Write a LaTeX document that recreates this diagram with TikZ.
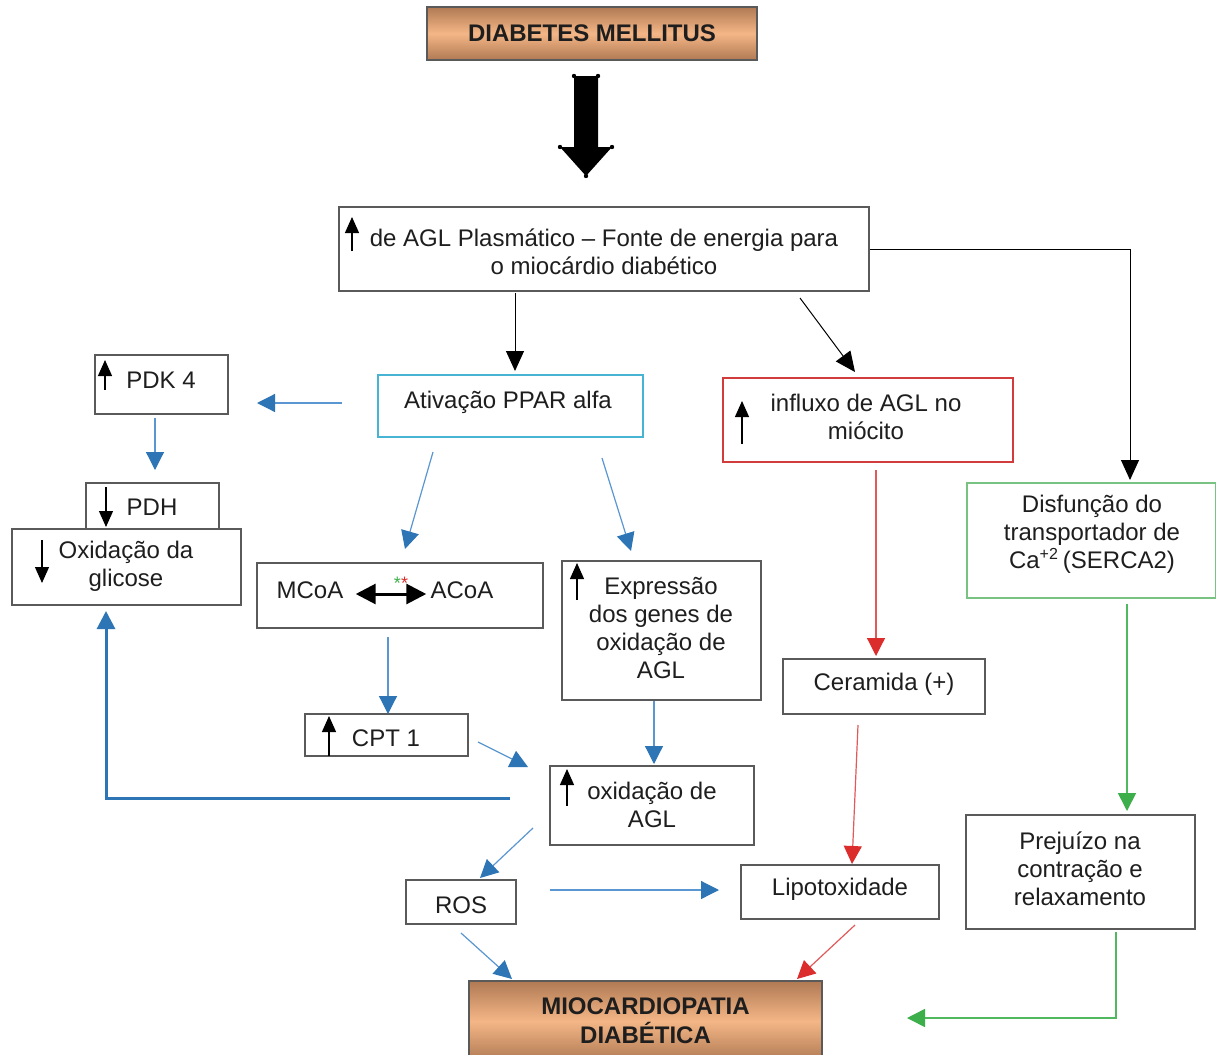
\documentclass[tikz,border=0pt]{standalone}
\usepackage{fontspec}
\setmainfont{Liberation Sans}
\usetikzlibrary{arrows.meta,calc}
\definecolor{txt}{RGB}{30,30,30}
\definecolor{bord}{RGB}{90,90,90}
\definecolor{blhead}{RGB}{46,117,182}
\definecolor{blline}{RGB}{90,150,210}
\definecolor{rdhead}{RGB}{220,45,45}
\definecolor{rdline}{RGB}{225,90,90}
\definecolor{gnhead}{RGB}{60,175,75}
\definecolor{gnline}{RGB}{80,185,95}
\definecolor{gnbox}{RGB}{120,195,130}
\definecolor{cybox}{RGB}{70,180,210}
\definecolor{rdbox}{RGB}{210,60,60}
\definecolor{brdark}{RGB}{176,122,84}
\definecolor{brlight}{RGB}{244,182,134}
\begin{document}
\begin{tikzpicture}[x=0.5pt,y=-0.5pt,
  box/.style={draw=bord, line width=0.75pt, fill=white, align=center, inner sep=0pt,
    font=\fontsize{12}{14}\selectfont, text=txt},
  titlebox/.style={draw=bord, line width=0.75pt, top color=brdark, bottom color=brdark,
    middle color=brlight, align=center, inner sep=0pt,
    font=\fontsize{12}{14.5}\selectfont\bfseries, text=txt},
  lbl/.style={inner sep=0pt, align=center, font=\fontsize{12}{14}\selectfont, text=txt},
  ind/.style={-{Triangle[length=8pt,width=7pt]}, line width=0.6pt, black},
  blk/.style={-{Triangle[length=10pt,width=9pt]}, line width=0.5pt, black},
  blu/.style={-{Triangle[length=9pt,width=9pt,color=blhead]}, line width=0.6pt, blline},
  red/.style={-{Triangle[length=9pt,width=9pt,color=rdhead]}, line width=0.6pt, rdline},
  grn/.style={-{Triangle[length=9pt,width=9pt,color=gnhead]}, line width=0.8pt, gnline}]
\useasboundingbox (0,0) rectangle (1216,1055);
\fill[white] (0,0) rectangle (1216,1055);

% ---- nodes ----
\node[titlebox, minimum width=165pt, minimum height=26.5pt] (dm) at (592,33.5) {DIABETES MELLITUS};
\node[box, minimum width=265pt, minimum height=42pt] (agl) at (604,249) {};
\node[lbl] (aglt) at (604,252) {de AGL Plasmático – Fonte de energia para\\o miocárdio diabético};
\node[box, draw=cybox, line width=1pt, minimum width=132.5pt, minimum height=31pt] (ppar) at (510.5,406) {};
\node[lbl] (ppart) at (508,402) {Ativação PPAR alfa};
\node[box, minimum width=66.5pt, minimum height=29.5pt] (pdk) at (161.5,384.5) {};
\node[lbl] (pdkt) at (161,380) {PDK 4};
\node[box, minimum width=66.5pt, minimum height=23.5pt] (pdh) at (152.5,506.5) {};
\node[lbl] (pdht) at (152,507) {PDH};
\node[box, minimum width=114.5pt, minimum height=38pt] (glic) at (126.5,567) {};
\node[lbl] (glict) at (126,566) {Oxidação da\\glicose};
\node[box, minimum width=143pt, minimum height=32.5pt] (mcoa) at (400,595.5) {};
\node[lbl] (mc) at (310,590) {MCoA};
\node[lbl] (ac) at (462,590) {ACoA};
\node[inner sep=0pt, font=\fontsize{9}{9}\selectfont] (stars) at (401,583)
  {\textcolor{gnhead}{*}\textcolor{rdhead}{*}};
\node[box, minimum width=99.5pt, minimum height=69.5pt] (expr) at (661.5,630.5) {};
\node[lbl] (exprt) at (661,628) {Expressão\\dos genes de\\oxidação de\\AGL};
\node[box, minimum width=81.5pt, minimum height=21pt] (cpt) at (386.5,735) {};
\node[lbl] (cptt) at (386,738) {CPT 1};
\node[box, minimum width=102pt, minimum height=39.5pt] (oxagl) at (652,805.5) {};
\node[lbl] (oxaglt) at (652,805) {oxidação de\\AGL};
\node[box, minimum width=55pt, minimum height=22pt] (ros) at (461,902) {};
\node[lbl] (rost) at (461,905) {ROS};
\node[box, minimum width=99pt, minimum height=27pt] (lipo) at (840,892) {};
\node[lbl] (lipot) at (840,889) {Lipotoxidade};
\node[box, draw=rdbox, line width=1pt, minimum width=145pt, minimum height=42pt] (infl) at (868,420) {};
\node[lbl] (inflt) at (866,417) {influxo de AGL no\\miócito};
\node[box, minimum width=101pt, minimum height=27.5pt] (cer) at (884,686.5) {};
\node[lbl] (cert) at (884,684) {Ceramida (+)};
\node[box, draw=gnbox, line width=0.6pt, minimum width=124.5pt, minimum height=57.5pt] (dis) at (1091.5,540.5) {};
\node[lbl] (dist) at (1092,534) {Disfunção do\\transportador de\\Ca\textsuperscript{+2}\,(SERCA2)};
\node[box, minimum width=114.5pt, minimum height=57pt] (prej) at (1080.5,872) {};
\node[lbl] (prejt) at (1080,869) {Prejuízo na\\contração e\\relaxamento};
\node[titlebox, minimum width=176.5pt, minimum height=40pt] (mio) at (645.5,1021)
  {MIOCARDIOPATIA\\DIABÉTICA};

% ---- indicator arrows inside boxes ----
\draw[ind] (352,251) -- (352,217);
\draw[ind] (105,390) -- (105,360);
\draw[ind] (106,487) -- (106,527);
\draw[ind] (42,540) -- (42,583);
\draw[ind] (577,600) -- (577,563);
\draw[ind] (329,756) -- (329,716);
\draw[ind] (567,806) -- (567,769);
\draw[ind] (742,444) -- (742,401);
\draw[{Triangle[length=10pt,width=10pt]}-{Triangle[length=10pt,width=10pt]}, line width=1.5pt]
  ($(mc.east)+(12,4)$) -- ($(ac.west)+(-4,4)$);

% ---- big arrow ----
\fill[black] (574,76) -- (598,76) -- (598,147) -- (612,147) -- (586,176) -- (560,147) -- (574,147) -- cycle;
\foreach \p in {(574,76),(598,76),(560,147),(612,147),(586,176)} \fill \p circle (2.2);

% ---- coordinates ----
\coordinate (a1s) at (515,293); \coordinate (a1e) at (515,371);
\coordinate (a2s) at (800,298); \coordinate (a2e) at (855,372);
\coordinate (a3e) at (1130,480);
\coordinate (b1s) at (342,403); \coordinate (b1e) at (257,403);
\coordinate (b2s) at (155,418); \coordinate (b2e) at (155,470);
\coordinate (b3s) at (433,452); \coordinate (b3e) at (405,549);
\coordinate (b4s) at (602,458); \coordinate (b4e) at (631,551);
\coordinate (b5s) at (388,637); \coordinate (b5e) at (388,714);
\coordinate (b6s) at (478,742); \coordinate (b6e) at (528,767);
\coordinate (b7e) at (654,764);
\coordinate (b8s) at (510,798); \coordinate (b8e) at (106,611);
\coordinate (b9s) at (533,828); \coordinate (b9e) at (480,878);
\coordinate (b10s) at (550,890); \coordinate (b10e) at (719,890);
\coordinate (b11s) at (461,933); \coordinate (b11e) at (512,979);
\coordinate (r1s) at (876,470); \coordinate (r1e) at (876,656);
\coordinate (r2s) at (858,725); \coordinate (r2e) at (852,864);
\coordinate (r3s) at (855,925); \coordinate (r3e) at (797,979);
\coordinate (g1s) at (1127,604); \coordinate (g1e) at (1127,811);
\coordinate (g2s) at (1116,932); \coordinate (g2e) at (907,1018);

% ---- connectors ----
\draw[blk] (a1s) -- (a1e);
\draw[blk] (a2s) -- (a2e);
\draw[blk] (agl.east) -| (a3e);
\draw[blu] (b1s) -- (b1e);
\draw[blu] (b2s) -- (b2e);
\draw[blu] (b3s) -- (b3e);
\draw[blu] (b4s) -- (b4e);
\draw[blu] (b5s) -- (b5e);
\draw[blu] (b6s) -- (b6e);
\draw[blu] (expr.south -| b7e) -- (b7e);
\draw[-{Triangle[length=9pt,width=9pt]}, line width=1.5pt, blhead] (b8s) -| (b8e);
\draw[blu] (b9s) -- (b9e);
\draw[blu] (b10s) -- (b10e);
\draw[blu] (b11s) -- (b11e);
\draw[red] (r1s) -- (r1e);
\draw[red] (r2s) -- (r2e);
\draw[red] (r3s) -- (r3e);
\draw[grn] (g1s) -- (g1e);
\draw[grn] (g2s) |- (g2e);
\end{tikzpicture}
\end{document}
